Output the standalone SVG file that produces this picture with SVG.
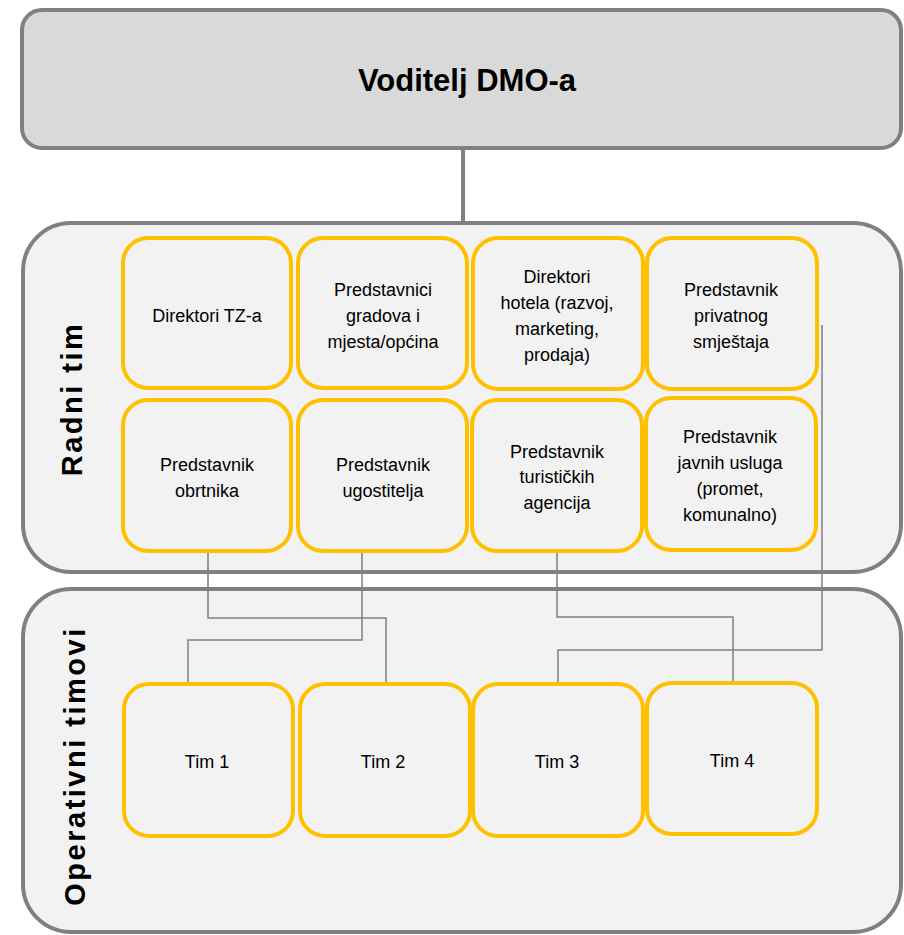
<svg xmlns="http://www.w3.org/2000/svg" width="904" height="935" viewBox="0 0 904 935">
<style>
.t{font-family:"Liberation Sans",Arial,sans-serif;font-size:18px;fill:#000;text-anchor:middle}
.h{font-family:"Liberation Sans",Arial,sans-serif;font-weight:bold;fill:#000;text-anchor:middle}
.n{fill:#F2F2F2;stroke:#FFC000;stroke-width:4}
.c{fill:#F2F2F2;stroke:#808080;stroke-width:4}
.l{fill:none;stroke:#808080;stroke-width:1.5}
</style>
<rect width="904" height="935" fill="#fff"/>
<g id="containers">
<rect class="c" x="23" y="223" width="878" height="349" rx="48"/>
<rect class="c" x="23" y="589" width="878" height="343" rx="48"/>
<text class="h" font-size="29" letter-spacing="2.5" transform="translate(82,399) rotate(-90)">Radni tim</text>
<text class="h" font-size="29" letter-spacing="2.5" transform="translate(85,766) rotate(-90)">Operativni timovi</text>
</g>
<g id="connectors">
<line x1="463" y1="148" x2="463" y2="222" stroke="#808080" stroke-width="4"/>
<polyline class="l" points="208,551 208,618 386,618 386,684"/>
<polyline class="l" points="362,551 362,640 188,640 188,684"/>
<polyline class="l" points="557,551 557,617 733,617 733,683"/>
<polyline class="l" points="822,325 822,650 558,650 558,684"/>
</g>
<g id="voditelj">
<rect x="22" y="10" width="879" height="138" rx="20" fill="#D9D9D9" stroke="#808080" stroke-width="4"/>
<text class="h" font-size="31" x="467" y="91">Voditelj DMO-a</text>
</g>
<g id="direktori-tz">
<rect class="n" x="123" y="238" width="168" height="150" rx="25"/>
<text class="t" x="207" y="322">Direktori TZ-a</text>
</g>
<g id="predstavnici-gradova">
<rect class="n" x="298" y="238" width="169" height="150" rx="25"/>
<text class="t" x="383" y="296">Predstavnici</text>
<text class="t" x="383" y="322">gradova i</text>
<text class="t" x="383" y="348">mjesta/općina</text>
</g>
<g id="direktori-hotela">
<rect class="n" x="473" y="238" width="170" height="151" rx="25"/>
<text class="t" x="557" y="283">Direktori</text>
<text class="t" x="557" y="309">hotela (razvoj,</text>
<text class="t" x="557" y="335">marketing,</text>
<text class="t" x="557" y="361">prodaja)</text>
</g>
<g id="privatni-smjestaj">
<rect class="n" x="647" y="238" width="170" height="151" rx="25"/>
<text class="t" x="731" y="296">Predstavnik</text>
<text class="t" x="731" y="322">privatnog</text>
<text class="t" x="731" y="348">smještaja</text>
</g>
<g id="obrtnici">
<rect class="n" x="123" y="400" width="168" height="151" rx="25"/>
<text class="t" x="207" y="471">Predstavnik</text>
<text class="t" x="207" y="497">obrtnika</text>
</g>
<g id="ugostitelji">
<rect class="n" x="298" y="400" width="169" height="151" rx="25"/>
<text class="t" x="383" y="471">Predstavnik</text>
<text class="t" x="383" y="497">ugostitelja</text>
</g>
<g id="agencije">
<rect class="n" x="472" y="400" width="170" height="151" rx="25"/>
<text class="t" x="557" y="458">Predstavnik</text>
<text class="t" x="557" y="483">turističkih</text>
<text class="t" x="557" y="509">agencija</text>
</g>
<g id="javne-usluge">
<rect class="n" x="646" y="398" width="170" height="152" rx="25"/>
<text class="t" x="730" y="443">Predstavnik</text>
<text class="t" x="730" y="469">javnih usluga</text>
<text class="t" x="730" y="495">(promet,</text>
<text class="t" x="730" y="521">komunalno)</text>
</g>
<g id="tim1">
<rect class="n" x="124" y="684" width="169" height="152" rx="25"/>
<text class="t" x="207" y="768">Tim 1</text>
</g>
<g id="tim2">
<rect class="n" x="300" y="684" width="170" height="152" rx="25"/>
<text class="t" x="383" y="768">Tim 2</text>
</g>
<g id="tim3">
<rect class="n" x="473" y="684" width="170" height="152" rx="25"/>
<text class="t" x="557" y="768">Tim 3</text>
</g>
<g id="tim4">
<rect class="n" x="647" y="683" width="170" height="151" rx="25"/>
<text class="t" x="732" y="767">Tim 4</text>
</g>
</svg>
